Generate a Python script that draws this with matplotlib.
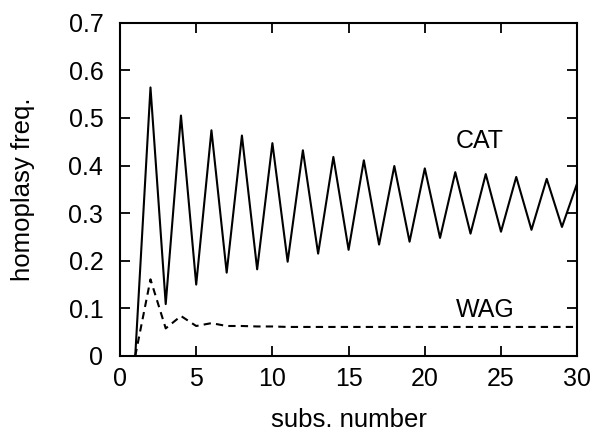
import matplotlib
matplotlib.use('Agg')
import matplotlib.pyplot as plt
from matplotlib.ticker import FuncFormatter

plt.rcParams['font.family'] = ['Liberation Sans', 'DejaVu Sans']

# substitution number
subs = list(range(1, 31))

# homoplasy frequency, CAT model
cat = [0.0, 0.564, 0.109, 0.505, 0.150, 0.474, 0.175, 0.463, 0.182, 0.447,
       0.198, 0.432, 0.215, 0.418, 0.223, 0.411, 0.234, 0.399, 0.240, 0.394,
       0.248, 0.386, 0.257, 0.382, 0.261, 0.376, 0.265, 0.372, 0.271, 0.363]

# homoplasy frequency, WAG model
wag = [0.0, 0.161, 0.058, 0.084, 0.063, 0.069, 0.063, 0.063, 0.062, 0.062,
       0.061, 0.061, 0.061, 0.061, 0.061, 0.061, 0.061, 0.061, 0.061, 0.061,
       0.061, 0.061, 0.061, 0.061, 0.061, 0.061, 0.061, 0.061, 0.061, 0.061]

fig = plt.figure(figsize=(6, 4.36), dpi=100)
ax = fig.add_axes([0.2, 0.1835, 0.762, 0.7645])

ax.plot(subs, cat, color='black', lw=1.5)
ax.plot(subs, wag, color='black', lw=1.5, dashes=(3.5, 2.5))

ax.text(23.6, 0.452, 'CAT', fontsize=18, ha='center', va='center')
ax.text(24.0, 0.097, 'WAG', fontsize=18, ha='center', va='center')

ax.set_xlim(0, 30)
ax.set_ylim(0, 0.7)
ax.set_xticks(range(0, 31, 5))
ax.set_yticks([0, 0.1, 0.2, 0.3, 0.4, 0.5, 0.6, 0.7])
ax.yaxis.set_major_formatter(FuncFormatter(lambda v, p: '%g' % round(v, 2)))

ax.tick_params(direction='in', length=7, width=1.3, labelsize=18,
               top=True, right=True)
ax.tick_params(axis='x', pad=8)
ax.tick_params(axis='y', pad=12)
for s in ax.spines.values():
    s.set_linewidth(1.5)

ax.set_xlabel('subs. number', fontsize=18.5, labelpad=12)
ax.set_ylabel('homoplasy freq.', fontsize=18.5, labelpad=24)

fig.savefig('out.png', dpi=100)
